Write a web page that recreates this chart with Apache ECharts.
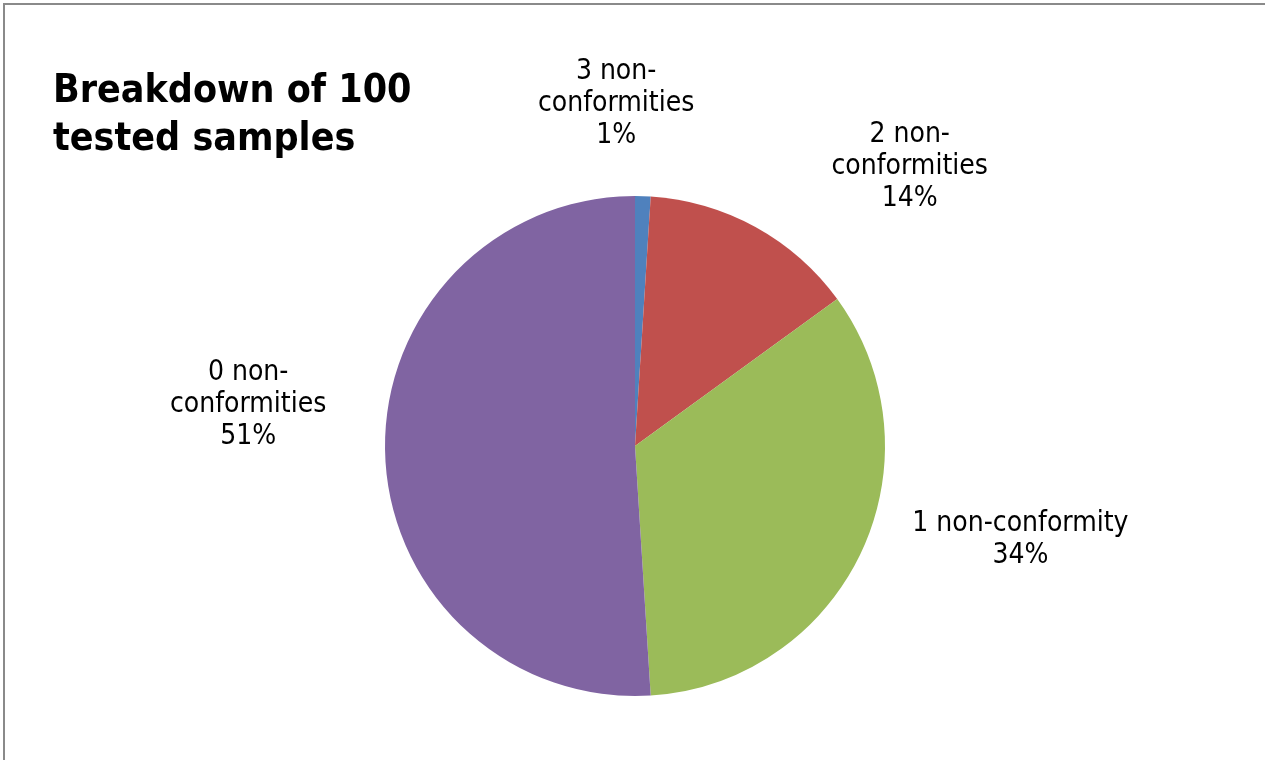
<!DOCTYPE html>
<html>
<head>
<meta charset="utf-8">
<script src="https://cdn.jsdelivr.net/npm/echarts@6/dist/echarts.min.js"></script>
<style>
html,body{margin:0;padding:0;background:#fff;}
#chart{position:absolute;left:0;top:0;width:1265px;height:760px;}
#frame{position:absolute;left:3px;top:3px;width:1300px;height:800px;border-top:2px solid #8a8a8a;border-left:2px solid #8a8a8a;pointer-events:none;}
</style>
</head>
<body>
<div id="chart"></div>
<div id="frame"></div>
<script>
const categories = ['3 non-\nconformities', '2 non-\nconformities', '1 non-conformity', '0 non-\nconformities'];
const values = [1, 14, 34, 51];
const colors = ['#4F81BD', '#C0504D', '#9BBB59', '#8064A2'];
const labelOffsets = [[-28, -52], [135, -25], [123, -30], [-97, -50]];

const FONT = '"DejaVu Sans Condensed", "DejaVu Sans", sans-serif';
const chart = echarts.init(document.getElementById('chart'), null, {renderer: 'canvas'});
chart.setOption({
  animation: false,
  backgroundColor: '#ffffff',
  title: {
    text: 'Breakdown of 100\ntested samples',
    left: 48,
    top: 63,
    textStyle: {fontFamily: FONT, fontWeight: 'bold', fontSize: 39, lineHeight: 48, color: '#000'}
  },
  series: [{
    type: 'pie',
    center: [635, 446],
    radius: 250,
    startAngle: 90,
    clockwise: true,
    avoidLabelOverlap: false,
    data: categories.map((c, i) => ({name: c, value: values[i], itemStyle: {color: colors[i]}})),
    label: {
      show: true,
      position: 'outside',
      formatter: '{b}\n{d}%',
      fontFamily: FONT,
      fontSize: 28,
      lineHeight: 32,
      color: '#000',
      distanceToLabelLine: 0
    },
    labelLine: {show: false, length: 40, length2: 0},
    labelLayout: function (p) {
      const o = labelOffsets[p.dataIndex];
      return {align: 'center', verticalAlign: 'middle', dx: o[0], dy: o[1]};
    },
    emphasis: {disabled: true}
  }]
});
</script>
</body>
</html>
